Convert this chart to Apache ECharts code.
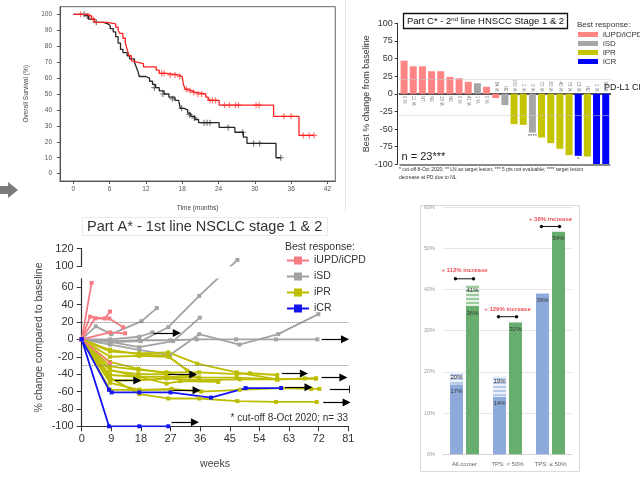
<!DOCTYPE html>
<html><head><meta charset="utf-8">
<script src="https://cdn.jsdelivr.net/npm/echarts@6/dist/echarts.min.js"></script>
<style>html,body{margin:0;padding:0;background:#fff}#c{width:640px;height:478px}</style>
</head><body><div id="c"></div>
<script>
// ================= DATA =================
// Chart 1: Kaplan-Meier overall survival (months, % surviving)
const kmTicksX = [0, 6, 12, 18, 24, 30, 36, 42];
const kmTicksY = [0, 10, 20, 30, 40, 50, 60, 70, 80, 90, 100];
const kmRed = [[0,100],[2.2,99],[3.0,97],[3.5,95],[5.6,94],[7.0,92],[7.4,90],[7.7,88],[8.2,85],[8.6,82],[8.9,78],[9.2,74],[9.6,71],[9.9,70],[10.5,69],[11.6,67],[13.7,65],[14.2,63],[15.4,62],[17.4,61],[18.0,60],[18.2,56],[18.5,53],[19.0,52],[19.6,51],[20.1,50],[21.9,48],[22.3,46],[24.1,43],[33.1,36],[37.3,24],[39.8,24]];
const kmBlack = [[0,100],[1.5,99],[2.5,97],[3.5,95],[5.0,94],[5.7,93],[6.1,91],[6.6,89],[7.0,86],[7.4,82],[7.8,78],[8.2,76],[8.9,74],[9.3,72],[10.1,70],[10.4,67],[10.7,64],[10.9,61],[12.0,60],[12.6,58],[13.1,56],[13.6,54],[14.2,52],[15.0,50],[15.8,48],[16.8,46],[17.4,45],[17.7,41],[18.3,40],[18.9,38],[19.4,36],[20.1,34],[20.7,32],[24.1,29],[26.7,26],[28.1,23],[28.7,19],[33.5,10],[34.3,10]];
const kmRedCensor = [[1.2,100],[2.6,99],[3.3,97],[14.6,63],[15.0,63],[16.0,62],[16.8,62],[17.6,61],[18.7,53],[19.3,52],[19.9,51],[20.6,50],[21.2,50],[22.6,46],[23.0,46],[23.5,46],[25.0,43],[25.8,43],[26.8,43],[27.3,43],[30.2,43],[30.7,43],[34.8,36],[36.0,36],[38.0,24],[39.0,24],[39.8,24]];
const kmBlackCensor = [[1.8,100],[2.3,99],[3.8,95],[13.4,54],[14.8,50],[16.4,47],[17.9,41],[19.2,37],[20.0,35],[21.6,32],[22.1,32],[22.6,32],[25.6,29],[28.0,26],[29.8,19],[30.8,19],[34.3,10]];

// Chart 2: waterfall, Part C (best % change from baseline)
const wfValues = [47, 39, 39, 32, 32, 24, 22, 17, 15, 10, -6, -16, -43, -44, -55, -62, -70, -78, -87, -88, -89, -100, -100];
const wfResponse = ['U','U','U','U','U','U','U','U','S','U','U','S','P','P','S','P','P','P','P','C','P','C','C'];
const wfCps = ['0 %','11 %','NT','NE','18 %','NE','0 %','41 %','1 %','0 %','84 %','NE','100 %','1 %','3 %','70 %','50 %','40 %','75 %','15 %','NE','1 %','95 %'];
const wfNotes = ['','','','','','','','','','','','','','','****','','','','','*','','',''];
const wfRefLines = [20, -30];

// Chart 3: spider plot, Part A (weeks, % change)
const spiderTicksY = [-100, -80, -60, -40, -20, 0, 20, 40, 60, 100, 120];
const spiderUPD = [
  [[0,0],[3,65]],
  [[0,0],[2.5,26],[7,24],[8.6,32]],
  [[0,0],[4,24],[8.4,24],[12.6,14]],
  [[0,0],[8.6,8],[13.2,7]],
  [[0,0],[8.6,-27]]
];
const spiderSD = [
  [[0,0],[4.3,15],[9,6],[18.2,21],[22.8,36]],
  [[0,0],[9,-3],[18,-2],[26.3,14],[35.7,50],[47.3,107]],
  [[0,0],[8.6,0],[17.5,3],[21.5,8]],
  [[0,0],[8.6,-3],[17.5,-9],[27.8,-2],[35.9,25]],
  [[0,0],[8.6,-6],[17.5,-12],[26.8,-18],[35.7,6],[47.9,-6],[59.7,6],[71.9,29]],
  [[0,0],[8.6,-2],[17.5,-1],[27,-1],[35,0],[46.9,0],[59,0],[71.6,0]]
];
const spiderPR = [
  [[0,0],[8.6,-14],[17.5,-16],[26.3,-15],[35.1,-28],[47.1,-38],[59.4,-46],[67.8,-45],[71.2,-45]],
  [[0,0],[8.6,-20],[17.5,-19],[26.3,-20],[34,-40]],
  [[0,0],[8.6,-36],[17.2,-40],[25.8,-40]],
  [[0,0],[8.6,-48]],
  [[0,0],[8.6,-31],[17.2,-35],[25.8,-38],[35.7,-38],[47.1,-40],[51.1,-39],[59.4,-41]],
  [[0,0],[8.6,-41],[17.2,-43],[25.8,-43],[35.7,-44],[47.1,-44],[59.4,-46],[71.2,-45]],
  [[0,0],[8.6,-58],[17.5,-58],[27.3,-57],[36.3,-60],[48,-58],[60.6,-56],[69.7,-57],[72.2,-57]],
  [[0,0],[8.6,-44],[17.5,-63],[26.3,-68],[35.7,-68],[47.3,-71],[59,-72],[71.4,-72]],
  [[0,0],[8.6,-50],[17.5,-58],[27.3,-58]],
  [[0,0],[8.6,-35],[17.2,-43],[25.8,-51],[29.9,-48],[41.5,-49]],
  [[0,0],[8.6,-47],[17.2,-47],[25.8,-45],[35.7,-47],[48,-46],[59.4,-46]],
  [[0,0],[8.6,-26],[17.2,-34],[26.3,-39],[35.7,-44]],
  [[0,0],[8.6,-12],[17.2,-17],[26.3,-19],[32,-36]]
];
const spiderCR = [
  [[0,0],[8.3,-100],[17.5,-100],[26.3,-100]],
  [[0,0],[8.3,-58],[9.1,-61],[17.5,-61],[27,-61],[39.3,-67],[49.8,-56],[60.6,-56]]
];
// ongoing patients: [startWeek, value, endWeek]
const ongoingArrows = [[21.8,7.3,28.9],[72.9,0,80],[60.8,-39.3,67.5],[72.9,-43.9,79.5],[26.3,-40.5,33.9],[10.1,-47.3,16.9],[27.8,-58.4,34.9],[61.8,-55,68.9],[75.4,-57.3,82.5],[73.4,-72.5,80.5],[27.3,-95.4,34.4]];
const spiderRefLines = [20, -30];

// Chart 4: response rates bar chart
const barCats = ['All comer', 'TPS: < 50%', 'TPS: \u2265 50%'];
const blueBase = [17, 14, 39];
const blueTotal = [20, 19, 39];
const greenBase = [36, 32, 54];
const greenTotal = [41, 32, 54];
const incLabels = ['+ 112% increase', '+ 129% increase', '+ 38% increase'];
const incLevel = [42.6, 33.4, 55.3];
const incTextLevel = [44.6, 35.3, 57.0];

// ================= CHART =================
const FONT = '"Liberation Sans", Arial, sans-serif';
const chart = echarts.init(document.getElementById('c'));

const respNames = {U:'iUPD/iCPD ', S:'iSD ', P:'iPR ', C:'iCR '};
const respColors = {U:'#FF8585', S:'#A6A6A6', P:'#C4C400', C:'#0000FF'};
const spColors = {UPD:'#F77B83', SD:'#A3A3A3', PR:'#BDBD00', CR:'#1414F5'};

const series = [];

// --- KM ---
series.push({type:'line', xAxisIndex:0, yAxisIndex:0, step:'end', data:kmBlack, showSymbol:false, lineStyle:{color:'#262626', width:1.3}, itemStyle:{color:'#262626'}, silent:true});
series.push({type:'line', xAxisIndex:0, yAxisIndex:0, step:'end', data:kmRed, showSymbol:false, lineStyle:{color:'#FF2020', width:1.3}, itemStyle:{color:'#FF2020'}, silent:true});
const plus = 'path://M4,0H6V4H10V6H6V10H4V6H0V4H4Z';
series.push({type:'scatter', xAxisIndex:0, yAxisIndex:0, data:kmBlackCensor, symbol:plus, symbolSize:6, itemStyle:{color:'#555'}, silent:true});
series.push({type:'scatter', xAxisIndex:0, yAxisIndex:0, data:kmRedCensor, symbol:plus, symbolSize:6, itemStyle:{color:'#FF5050'}, silent:true});

// --- Waterfall ---
['U','S','P','C'].forEach((k, idx) => {
  const s = {
    type:'bar', name:respNames[k], xAxisIndex:1, yAxisIndex:1, stack:'wf', barWidth:7,
    itemStyle:{color:respColors[k]},
    data: wfValues.map((v,i) => wfResponse[i] === k ? v : '-')
  };
  if (idx === 0) {
    s.markLine = {silent:true, symbol:'none', label:{show:false},
      data: wfRefLines.map(v => ({yAxis:v, lineStyle:{type:'dotted', color:'#c8c8c8', width:1}}))
        .concat([{yAxis:-100, lineStyle:{type:'solid', color:'#8a8a8a', width:2}}])};
  }
  series.push(s);
});
series.push({type:'scatter', xAxisIndex:1, yAxisIndex:1, symbolSize:0, silent:true,
  data: wfValues.map((v,i) => ({value:[i,0], label:{show:true, formatter:wfCps[i], rotate:-90,
    position: v >= 0 ? 'bottom' : 'top', align: v >= 0 ? 'left' : 'right', verticalAlign:'middle',
    distance:2, fontSize:4.5, color:'#555', fontFamily:FONT}}))});
series.push({type:'scatter', xAxisIndex:1, yAxisIndex:1, symbolSize:0, silent:true,
  data: wfValues.map((v,i) => wfNotes[i] ? {value:[i,v], label:{show:true, formatter:wfNotes[i], position:'bottom', distance:1, fontSize:6, color:'#333'}} : null).filter(Boolean)});

// --- Spider ---
function addSpider(list, name, color) {
  list.forEach(d => series.push({type:'line', name, xAxisIndex:2, yAxisIndex:2, data:d,
    symbol:'rect', symbolSize:4, lineStyle:{color, width:1.8}, itemStyle:{color}, silent:true, z:3}));
}
addSpider(spiderSD, 'iSD', spColors.SD);
addSpider(spiderPR, 'iPR', spColors.PR);
addSpider(spiderUPD, 'iUPD/iCPD', spColors.UPD);
addSpider(spiderCR, 'iCR', spColors.CR);
series.push({type:'line', xAxisIndex:2, yAxisIndex:2, data:[], silent:true,
  markLine:{silent:true, symbol:'none', label:{show:false}, lineStyle:{type:'dotted', color:'#777', width:1},
    data: spiderRefLines.map(v => ({yAxis:v}))}});
series.push({type:'lines', coordinateSystem:'cartesian2d', xAxisIndex:2, yAxisIndex:2, silent:true, z:5,
  symbol:['none','triangle'], symbolSize:8, lineStyle:{color:'#000', width:1.2, opacity:1},
  data: ongoingArrows.map(a => ({coords:[[a[0],a[1]],[a[2],a[1]]]}))});

// --- Bars ---
const stripe = {symbol:'rect', symbolSize:1, dashArrayX:[1,0], dashArrayY:[1.5,1.5], color:'rgba(255,255,255,0.75)'};
const barLbl = {show:true, position:'insideTop', distance:4, fontSize:6, color:'#333', fontFamily:FONT};
series.push({type:'bar', xAxisIndex:3, yAxisIndex:3, stack:'b', barWidth:13, barGap:'23%', data:blueBase,
  itemStyle:{color:'#8EAADB'}, label:Object.assign({}, barLbl, {formatter:p => blueBase[p.dataIndex] + '%'})});
series.push({type:'bar', xAxisIndex:3, yAxisIndex:3, stack:'b', barWidth:13, barGap:'23%',
  data: blueTotal.map((t,i) => t - blueBase[i]),
  itemStyle:{color:'#B9CBEA', decal:stripe},
  label:Object.assign({}, barLbl, {distance:2, formatter:p => blueTotal[p.dataIndex] > blueBase[p.dataIndex] ? blueTotal[p.dataIndex] + '%' : ''})});
series.push({type:'bar', xAxisIndex:3, yAxisIndex:3, stack:'g', barWidth:13, barGap:'23%', data:greenBase,
  itemStyle:{color:'#67AE6E'}, label:Object.assign({}, barLbl, {formatter:p => greenBase[p.dataIndex] + '%'})});
series.push({type:'bar', xAxisIndex:3, yAxisIndex:3, stack:'g', barWidth:13, barGap:'23%',
  data: greenTotal.map((t,i) => t - greenBase[i]),
  itemStyle:{color:'#9CCB9F', decal:stripe},
  label:Object.assign({}, barLbl, {distance:2, formatter:p => greenTotal[p.dataIndex] > greenBase[p.dataIndex] ? greenTotal[p.dataIndex] + '%' : ''})});
const BAR_OFF = 0.21;
incLevel.forEach((lv, i) => series.push({type:'line', xAxisIndex:4, yAxisIndex:3, silent:true,
  data:[[i - BAR_OFF, lv],[i + BAR_OFF, lv]], symbol:'circle', symbolSize:3.5,
  lineStyle:{color:'#111', width:1}, itemStyle:{color:'#111'}}));
series.push({type:'scatter', xAxisIndex:4, yAxisIndex:3, symbolSize:0, silent:true,
  data: incTextLevel.map((v,i) => ({value:[i, v], label:{show:true, position:'inside', formatter:incLabels[i],
    fontSize:6, fontWeight:'bold', color:'#E8202A', fontFamily:FONT}}))});

const option = {
  animation:false,
  backgroundColor:'#fff',
  textStyle:{fontFamily:FONT},
  title:[
    {text:'Part A* - 1st line NSCLC stage 1 & 2', left:82, top:217, padding:[2,5],
     borderColor:'#ebebeb', borderWidth:1,
     textStyle:{fontSize:14.5, fontWeight:'normal', color:'#333', fontFamily:FONT}},
    {text:'Part C* - 2{sup|nd} line HNSCC Stage 1 & 2', left:403, top:13, padding:[3,4,2,4],
     borderColor:'#111', borderWidth:1.3,
     textStyle:{fontSize:9.5, fontWeight:'normal', color:'#111', fontFamily:FONT,
       rich:{sup:{fontSize:6, verticalAlign:'top', padding:[0,0,5,0], color:'#111'}}}}
  ],
  legend:[
    {data:['iUPD/iCPD','iSD','iPR','iCR'], left:286, top:255, padding:0, orient:'vertical', itemWidth:22, itemHeight:10,
     itemGap:5, selectedMode:false, z:50, zlevel:1, textStyle:{fontSize:10.5, color:'#333', lineHeight:10, fontFamily:FONT}},
    {data:['iUPD/iCPD ','iSD ','iPR ','iCR '].map(n => ({name:n, icon:'rect'})), left:578, top:30.5, padding:0,
     orient:'vertical', itemWidth:20, itemHeight:5, itemGap:1, selectedMode:false,
     textStyle:{fontSize:8, color:'#333', lineHeight:8, fontFamily:FONT}}
  ],
  grid:[
    {left:60, top:6.7, width:275.3, height:174.3, show:true, borderColor:'#666', borderWidth:1, backgroundColor:'transparent'},
    {left:399.5, top:23.3, width:210.8, height:141},
    {left:81.7, top:248.7, width:266.6, height:177.6},
    {left:443, top:207.1, width:129, height:247.2}
  ],
  xAxis:[
    {gridIndex:0, type:'value', min:-2.2, max:43.3,
     axisLine:{show:true, onZero:false, lineStyle:{color:'#555'}},
     axisTick:{show:true, customValues:kmTicksX, length:3, lineStyle:{color:'#555'}},
     axisLabel:{customValues:kmTicksX, fontSize:6.5, color:'#555', margin:5},
     splitLine:{show:false},
     name:'Time (months)', nameLocation:'middle', nameGap:24, nameTextStyle:{fontSize:6.5, color:'#444'}},
    {gridIndex:1, type:'category', data:wfValues.map((v,i) => String(i + 1)),
     axisLine:{onZero:true, lineStyle:{color:'#555', width:1.8}}, axisTick:{show:false}, axisLabel:{show:false}},
    {gridIndex:2, type:'value', min:0, max:81, interval:9,
     axisLine:{onZero:false, lineStyle:{color:'#333', width:1.2}},
     axisTick:{length:5, lineStyle:{color:'#333'}},
     axisLabel:{fontSize:11, color:'#333', margin:7}, splitLine:{show:false},
     name:'weeks', nameLocation:'middle', nameGap:32, nameTextStyle:{fontSize:10.5, color:'#444'}},
    {gridIndex:3, type:'category', data:barCats,
     axisLine:{lineStyle:{color:'#d6d6d6'}}, axisTick:{show:false},
     axisLabel:{fontSize:6, color:'#666', margin:7}},
    {gridIndex:3, type:'value', min:-0.5, max:2.5, show:false}
  ],
  yAxis:[
    {gridIndex:0, type:'value', min:-4.6, max:104.8,
     axisLine:{show:true, onZero:false, lineStyle:{color:'#555'}},
     axisTick:{show:true, customValues:kmTicksY, length:3, lineStyle:{color:'#555'}},
     axisLabel:{customValues:kmTicksY, fontSize:6.5, color:'#555', margin:8},
     splitLine:{show:false},
     name:'Overall Survival (%)', nameLocation:'middle', nameGap:30, nameTextStyle:{fontSize:6.5, color:'#444'}},
    {gridIndex:1, type:'value', min:-100, max:100, interval:25, offset:1.8,
     axisLine:{show:true, onZero:false, lineStyle:{color:'#333'}},
     axisTick:{show:true, length:3, lineStyle:{color:'#333'}},
     axisLabel:{fontSize:9, color:'#333', margin:5}, splitLine:{show:false},
     name:'Best % change from baseline', nameLocation:'middle', nameGap:19, nameTextStyle:{fontSize:9, color:'#333'}},
    {gridIndex:2, type:'value', min:-100, max:120, interval:20,
     breaks:[{start:70, end:100, gap:'7%'}],
     breakArea:{show:true, expandOnClick:false, zigzagAmplitude:0,
       itemStyle:{color:'#fff', borderColor:'#fff', borderWidth:0, opacity:1}},
     axisLine:{show:true, onZero:false, lineStyle:{color:'#333', width:1.2}},
     axisTick:{show:true, customValues:spiderTicksY, length:5, lineStyle:{color:'#333'}},
     axisLabel:{customValues:spiderTicksY, fontSize:11, color:'#333', margin:8}, splitLine:{show:false},
     name:'% change compared to baseline', nameLocation:'middle', nameGap:37, nameTextStyle:{fontSize:10.5, color:'#444'}},
    {gridIndex:3, type:'value', min:0, max:60, interval:10,
     axisLine:{show:false}, axisTick:{show:false},
     axisLabel:{formatter:'{value}%', fontSize:5.5, color:'#999', margin:8},
     splitLine:{lineStyle:{color:'#e6e6e6'}}}
  ],
  graphic:[
    {type:'polygon', shape:{points:[[0,186],[8,186],[8,182],[18,190],[8,198],[8,194],[0,194]]}, style:{fill:'#7a7a7a'}},
    {type:'rect', shape:{x:420.5, y:205.5, width:159, height:266}, style:{fill:'none', stroke:'#dcdcdc', lineWidth:1}},
    {type:'line', shape:{x1:345.5, y1:0, x2:345.5, y2:212}, style:{stroke:'#e6e6e6', lineWidth:1}},
    {type:'text', x:285, y:247, style:{text:'Best response:', fontSize:10.5, fill:'#333', fontFamily:FONT, textVerticalAlign:'middle'}},
    {type:'text', x:348, y:418, style:{text:'* cut-off 8-Oct 2020; n= 33', fontSize:10, fill:'#333', fontFamily:FONT, textAlign:'right', textVerticalAlign:'middle'}},
    {type:'text', x:577, y:24.5, style:{text:'Best response:', fontSize:8, fill:'#333', fontFamily:FONT, textVerticalAlign:'middle'}},
    {type:'text', x:604, y:88, style:{text:'PD-L1 CPS', fontSize:9, fill:'#222', fontFamily:FONT, textVerticalAlign:'middle'}},
    {type:'text', x:401.5, y:157, style:{text:'n = 23***', fontSize:11, fill:'#222', fontFamily:FONT, textVerticalAlign:'middle'}},
    {type:'text', x:399, y:170, style:{text:'* cut-off 8-Oct 2020; ** LN as target lesion; *** 5 pts not evaluable; **** target lesion', fontSize:5, fill:'#333', fontFamily:FONT, textVerticalAlign:'middle'}},
    {type:'text', x:399, y:178, style:{text:'decrease at PD due to NL', fontSize:5, fill:'#333', fontFamily:FONT, textVerticalAlign:'middle'}}
  ],
  series
};
chart.setOption(option);
</script></body></html>
